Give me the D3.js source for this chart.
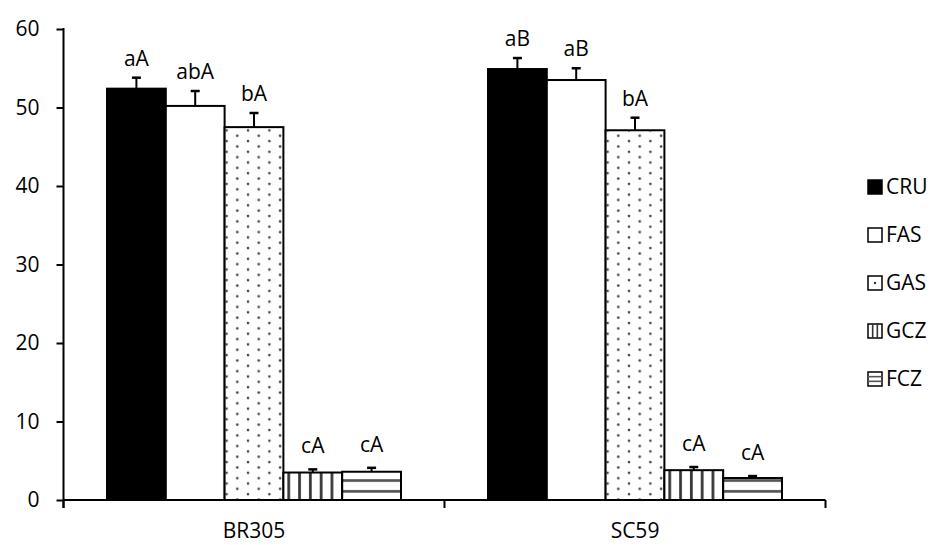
<!DOCTYPE html>
<html>
<head>
<meta charset="utf-8">
<script src="https://cdn.jsdelivr.net/npm/d3@7"></script>
<style>
  body { margin: 0; background: #fff; }
  svg { display: block; font-family: "Open Sans", sans-serif; }
</style>
</head>
<body>
<div class="chart"></div>
<script>
// data
var groups = ["BR305", "SC59"];
var series = ["CRU", "FAS", "GAS", "GCZ", "FCZ"];
var means = {
  "BR305": [52.4, 50.2, 47.5, 3.5, 3.6],
  "SC59":  [54.9, 53.5, 47.1, 3.8, 2.8]
};
var errs = {
  "BR305": [1.4, 1.9, 1.8, 0.4, 0.5],
  "SC59":  [1.4, 1.5, 1.6, 0.4, 0.25]
};
var letters = {
  "BR305": ["aA", "abA", "bA", "cA", "cA"],
  "SC59":  ["aB", "aB", "bA", "cA", "cA"]
};
var yTicks = [0, 10, 20, 30, 40, 50, 60];

//size
var width = 935, height = 545;
var margin = {top: 29, left: 63.5, right: 109.5, bottom: 45};

var svg = d3.select(".chart").append("svg")
    .attr("width", width)
    .attr("height", height);

// patterns for the bars
var defs = svg.append("defs");
var dots = defs.append("pattern").attr("id", "pDots")
    .attr("patternUnits", "userSpaceOnUse")
    .attr("width", 21.4).attr("height", 10.7);
dots.append("rect").attr("width", 21.4).attr("height", 10.7).attr("fill", "#fff");
dots.append("circle").attr("cx", 2).attr("cy", 2).attr("r", 1.3).attr("fill", "#444");
dots.append("circle").attr("cx", 12.7).attr("cy", 7.35).attr("r", 1.3).attr("fill", "#444");

var vert = defs.append("pattern").attr("id", "pVert")
    .attr("patternUnits", "userSpaceOnUse")
    .attr("width", 10.8).attr("height", 10.8);
vert.append("rect").attr("width", 10.8).attr("height", 10.8).attr("fill", "#fff");
vert.append("rect").attr("x", 4).attr("width", 2.7).attr("height", 10.8).attr("fill", "#333");

var horz = defs.append("pattern").attr("id", "pHorz")
    .attr("patternUnits", "userSpaceOnUse")
    .attr("width", 10.8).attr("height", 10.8);
horz.append("rect").attr("width", 10.8).attr("height", 10.8).attr("fill", "#fff");
horz.append("rect").attr("y", 4).attr("width", 10.8).attr("height", 2.7).attr("fill", "#555");

var fills = {"CRU": "#000", "FAS": "#fff", "GAS": "url(#pDots)", "GCZ": "url(#pVert)", "FCZ": "url(#pHorz)"};

//scales
var x0 = d3.scaleBand()
    .domain(groups)
    .range([margin.left, width - margin.right])
    .padding(0);
var x1 = d3.scaleBand()
    .domain(series)
    .range([0, x0.bandwidth()])
    .paddingInner(0)
    .paddingOuter(0.74);
var y = d3.scaleLinear()
    .domain([0, 60])
    .range([500, margin.top]);

// bars
var rows = [];
groups.forEach(function(g) {
  series.forEach(function(s, i) {
    rows.push({g: g, s: s, v: means[g][i], e: errs[g][i], t: letters[g][i]});
  });
});

var bar = svg.append("g").selectAll("g.bar")
    .data(rows).enter().append("g").attr("class", "bar")
    .attr("transform", function(d) { return "translate(" + (x0(d.g) + x1(d.s)) + ",0)"; });

var bw = x1.bandwidth();
// error bars first, bar drawn on top
bar.append("line")
    .attr("x1", bw / 2).attr("x2", bw / 2)
    .attr("y1", function(d) { return y(d.v); })
    .attr("y2", function(d) { return y(d.v + d.e); })
    .attr("stroke", "#000").attr("stroke-width", 2);
bar.append("line")
    .attr("x1", bw / 2 - 4.5).attr("x2", bw / 2 + 4.5)
    .attr("y1", function(d) { return y(d.v + d.e); })
    .attr("y2", function(d) { return y(d.v + d.e); })
    .attr("stroke", "#000").attr("stroke-width", 2.5);
bar.append("rect")
    .attr("y", function(d) { return y(d.v); })
    .attr("width", bw)
    .attr("height", function(d) { return y(0) - y(d.v); })
    .attr("fill", function(d) { return fills[d.s]; })
    .attr("stroke", "#000").attr("stroke-width", 2);
bar.append("text")
    .attr("x", bw / 2)
    .attr("y", function(d) { return y(d.v + d.e) - (d.v < 10 ? 16 : 12); })
    .attr("text-anchor", "middle")
    .attr("font-size", 21)
    .attr("fill", "#000")
    .text(function(d) { return d.t; });

// y axis
var yAxis = d3.axisLeft(y).tickValues(yTicks).tickSize(7).tickSizeOuter(0).tickPadding(17);
var gy = svg.append("g").attr("transform", "translate(" + margin.left + ",0)").call(yAxis);
gy.select(".domain").remove();
gy.selectAll("line").attr("stroke", "#000").attr("stroke-width", 2);
gy.selectAll("text").attr("font-size", 21).attr("fill", "#000").attr("font-family", "Open Sans");
gy.append("line").attr("x1", 0).attr("x2", 0)
    .attr("y1", y(60) - 1).attr("y2", y(0) + 8)
    .attr("stroke", "#000").attr("stroke-width", 2);

// x axis: labels at centre, ticks at band edges
var xAxis = d3.axisBottom(x0).tickSize(0).tickSizeOuter(0).tickPadding(23);
var gx = svg.append("g").attr("transform", "translate(0," + y(0) + ")").call(xAxis);
gx.select(".domain").remove();
gx.selectAll("text").attr("font-size", 21).attr("fill", "#000").attr("font-family", "Open Sans");
gx.append("line").attr("x1", x0.range()[0]).attr("x2", x0.range()[1])
    .attr("stroke", "#000").attr("stroke-width", 2);
var edges = groups.map(function(g) { return x0(g); }).concat([x0.range()[1]]);
gx.selectAll("line.edge").data(edges).enter().append("line").attr("class", "edge")
    .attr("x1", function(d) { return d; }).attr("x2", function(d) { return d; })
    .attr("y1", 0).attr("y2", 8)
    .attr("stroke", "#000").attr("stroke-width", 2);

// legend (small swatches get their own simple marks)
var sw = 14;
var leg = svg.append("g").attr("transform", "translate(868,187)");
var li = leg.selectAll("g").data(series).enter().append("g")
    .attr("transform", function(d, i) { return "translate(0," + (i * 48) + ")"; });
li.append("rect")
    .attr("x", 0).attr("y", -sw / 2).attr("width", sw).attr("height", sw)
    .attr("fill", function(d) { return d == "CRU" ? "#000" : "#fff"; })
    .attr("stroke", "#000").attr("stroke-width", 1.5);
li.filter(function(d) { return d == "GAS"; }).append("circle")
    .attr("cx", sw / 2).attr("cy", 0).attr("r", 1.2).attr("fill", "#333");
li.filter(function(d) { return d == "GCZ"; }).selectAll("line").data([sw / 3, 2 * sw / 3]).enter().append("line")
    .attr("x1", function(d) { return d; }).attr("x2", function(d) { return d; })
    .attr("y1", -sw / 2).attr("y2", sw / 2)
    .attr("stroke", "#333").attr("stroke-width", 1.6);
li.filter(function(d) { return d == "FCZ"; }).selectAll("line").data([-sw / 6, sw / 6]).enter().append("line")
    .attr("x1", 0).attr("x2", sw)
    .attr("y1", function(d) { return d; }).attr("y2", function(d) { return d; })
    .attr("stroke", "#555").attr("stroke-width", 1.6);
li.append("text")
    .attr("x", 18).attr("y", 0).attr("dy", "0.35em")
    .attr("font-size", 21).attr("fill", "#000")
    .text(function(d) { return d; });
</script>
</body>
</html>
